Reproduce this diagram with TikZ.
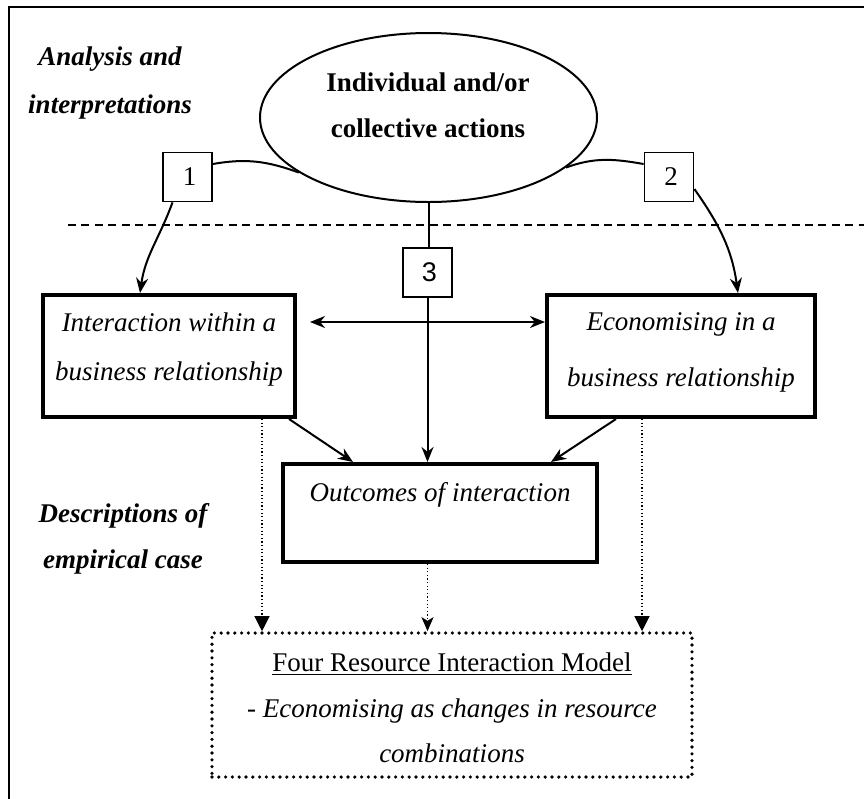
\documentclass[tikz,border=0pt]{standalone}
\usepackage{fontspec}
\setmainfont{Liberation Serif}
\newfontfamily\digitsans{Liberation Sans}
\usetikzlibrary{shapes.geometric,arrows.meta,calc}

\begin{document}
\begin{tikzpicture}[x=0.5pt,y=-0.5pt,
  txt/.style={align=center, inner sep=0pt},
  numbox/.style={draw, line width=0.9pt, minimum width=24.5pt, minimum height=24.5pt,
    inner sep=0pt, font=\fontsize{13.5}{16}\selectfont},
  mainbox/.style={draw, line width=2pt, inner sep=0pt},
  thin/.style={line width=1pt},
  arr/.style={line width=1pt, -{Stealth[length=7.5pt,width=6pt,inset=2.4pt]}},
  dblarr/.style={line width=1pt, {Stealth[length=7.5pt,width=6pt,inset=2.4pt]}-{Stealth[length=7.5pt,width=6pt,inset=2.4pt]}},
  dotarr/.style={line width=0.6pt, dash pattern=on 0.6pt off 1.2pt, -{Triangle[length=7.5pt,width=7.5pt]}},
  dotarrmid/.style={line width=0.6pt, dash pattern=on 0.6pt off 1.2pt, -{Stealth[length=7pt,width=6pt,inset=1.8pt]}},
]
\useasboundingbox (0,0) rectangle (864,799);

% outer frame (left and top edges)
\draw[line width=1pt] (9,799) -- (9,7) -- (864,7);

% section labels
\node[txt, font=\fontsize{13.5}{24.5}\selectfont\bfseries\itshape] (lab1) at (110,83)
  {Analysis and\\interpretations};
\node[txt, font=\fontsize{13.5}{23}\selectfont\bfseries\itshape] (lab2) at (123,539)
  {Descriptions of\\empirical case};

% dashed separator
\coordinate (sepL) at (68,225);
\coordinate (sepR) at (864,225);
\draw[line width=0.75pt, dash pattern=on 4pt off 2.7pt] (sepL) -- (sepR);

% central ellipse
\node[ellipse, draw, line width=1pt, minimum width=168.5pt, minimum height=84.5pt, inner sep=0pt]
  (ell) at (428.5,117.5) {};
\node[txt, font=\fontsize{13.5}{23}\selectfont\bfseries] (elltxt) at (428,105)
  {Individual and/or\\collective actions};

% numbered boxes
\node[numbox] (b1) at (187.5,177) {\hspace{2pt}1};
\node[numbox] (b2) at (669,177) {\hspace{2pt}2};
\node[numbox] (b3) at (427.5,272.5) {\hspace{2pt}\digitsans 3};

% main boxes
\node[mainbox, minimum width=126pt, minimum height=61pt] (ib) at (169,356) {};
\node[txt, font=\fontsize{13.5}{24.5}\selectfont\itshape] (ibtxt) at (169,349)
  {Interaction within a\\business relationship};
\node[mainbox, minimum width=134pt, minimum height=61pt] (eb) at (681,356) {};
\node[txt, font=\fontsize{13.5}{28}\selectfont\itshape] (ebtxt) at (681,352)
  {Economising in a\\business relationship};
\node[mainbox, minimum width=157pt, minimum height=49pt] (ob) at (440,513) {};
\node[txt, font=\fontsize{13.5}{16}\selectfont\itshape] (obtxt) at (440,495)
  {Outcomes of interaction};

% dotted model box
\node[draw, line width=1.8pt, dash pattern=on 0pt off 3.4pt, line cap=round,
  minimum width=240pt, minimum height=72pt, inner sep=0pt] (fb) at (452,705) {};
\node[txt, font=\fontsize{13.5}{22.75}\selectfont] (fbtxt) at (452,708)
  {\underline{Four Resource Interaction Model}\\
   - \textit{Economising as changes in resource}\\
   \textit{combinations}};

% links from the ellipse to boxes 1 and 2
\draw[thin] ([yshift=6.5pt]b1.east) to[out=10, in=160] (ell.203);
\draw[thin] ([yshift=6.5pt]b2.west) to[out=170, in=20] (ell.340);
\draw[thin] (ell.south) -- (ell.south |- b3.north);

% curved arrows down to the two upper boxes
\draw[arr] ([xshift=-7.5pt]b1.south) to[out=250, in=82] ([xshift=-14.5pt]ib.north);
\draw[arr] ([yshift=-6pt]b2.east) to[out=-55, in=98] ([xshift=28.5pt]eb.north);

% two-way arrow between the upper boxes
\draw[dblarr] ([xshift=6.5pt,yshift=17pt]ib.east) -- ([yshift=17pt]eb.west);

% arrows into the outcomes box
\draw[arr] (b3.south) -- (b3.south |- ob.north);
\draw[arr] ([xshift=-4pt]ib.south east) -- ([xshift=-43.5pt]ob.north);
\draw[arr] ([xshift=35.5pt]eb.south west) -- ([xshift=55.5pt]ob.north);

% dotted arrows into the model box
\coordinate (dl) at ([xshift=-17.5pt]ib.south east);
\coordinate (dr) at ([xshift=48.5pt]eb.south west);
\draw[dotarr] (dl) -- (dl |- fb.north);
\draw[dotarrmid] (b3.south |- ob.south) -- (b3.south |- fb.north);
\draw[dotarr] (dr) -- (dr |- fb.north);

\end{tikzpicture}
\end{document}
